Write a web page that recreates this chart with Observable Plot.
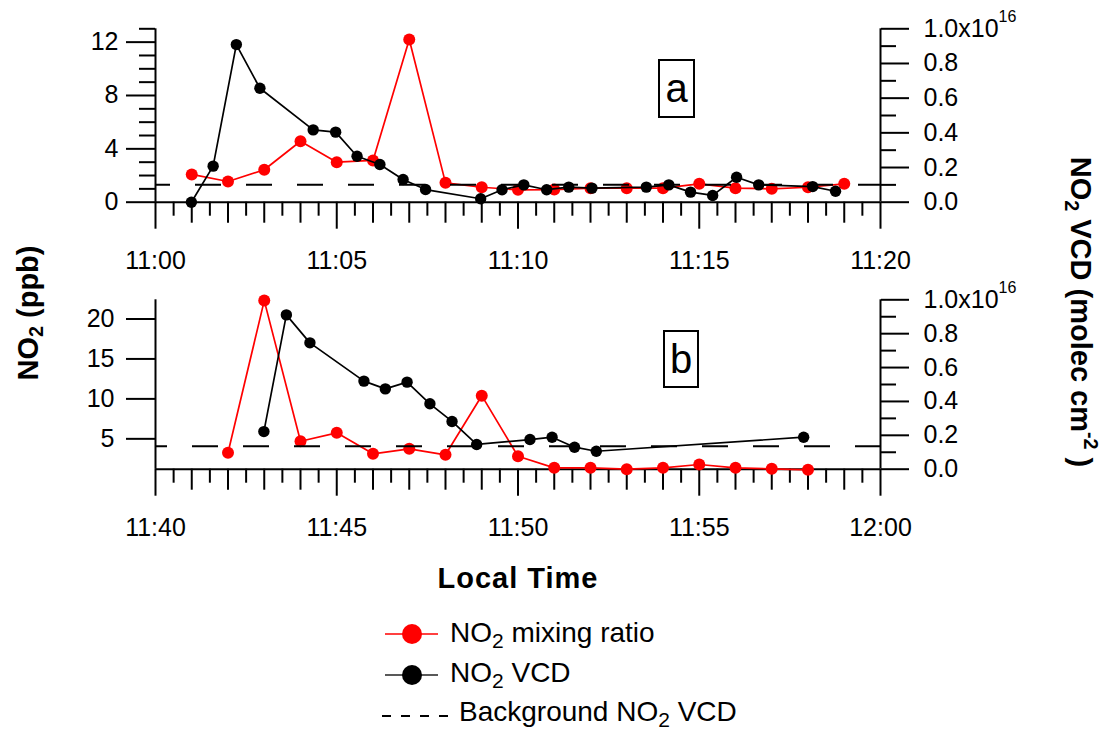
<!DOCTYPE html>
<html><head><meta charset="utf-8">
<script src="https://cdn.jsdelivr.net/npm/d3@7"></script>
<script src="https://cdn.jsdelivr.net/npm/@observablehq/plot@0.6"></script>
<style>
html,body{margin:0;padding:0;background:#fff;}
#chart{position:relative;width:1113px;height:731px;overflow:hidden;font-family:"Liberation Sans",Arial,sans-serif;color:#000;background:#fff;}
#chart svg{position:absolute;left:0;top:0;background:transparent;}
.title{position:absolute;font-weight:bold;font-size:29px;white-space:nowrap;line-height:1;transform-origin:50% 50%;}
.box{position:absolute;border:2px solid #000;box-sizing:border-box;font-size:40px;display:flex;align-items:center;justify-content:center;}
.leg{position:absolute;font-size:28px;white-space:nowrap;line-height:1;}
sub,sup{line-height:0;}
.title sub{font-size:0.68em;vertical-align:-0.3em;}
.title sup{font-size:0.68em;vertical-align:0.7em;}
.leg sub{font-size:0.75em;vertical-align:-0.3em;}
</style></head><body><div id="chart"></div>
<script>
// ---------- data (minutes after panel start; ppb; VCD in 1e16 molec cm^-2) ----------
const panelAStart = [11, 0];
const panelBStart = [11, 40];
const aRedMinutes = [1, 2, 3, 4, 5, 6, 7, 8, 9, 10, 11, 12, 13, 14, 15, 16, 17, 18, 19];
const aRedPpb = [2.08, 1.55, 2.43, 4.57, 3.0, 3.13, 12.2, 1.45, 1.12, 0.93, 0.95, 1.05, 1.05, 1.05, 1.38, 1.05, 1.0, 1.12, 1.38];
const aBlackMinutes = [0.99, 1.59, 2.23, 2.88, 4.35, 4.97, 5.56, 6.19, 6.83, 7.45, 8.97, 9.56, 10.16, 10.79, 11.40, 12.04, 13.54, 14.16, 14.76, 15.37, 16.03, 16.64, 18.13, 18.76];
const aBlackVcd = [0.0, 0.208, 0.909, 0.657, 0.417, 0.404, 0.265, 0.217, 0.131, 0.073, 0.02, 0.072, 0.1, 0.072, 0.087, 0.081, 0.087, 0.1, 0.058, 0.039, 0.144, 0.1, 0.09, 0.063];
const aBackgroundVcd = 0.1;

const bRedMinutes = [2, 3, 4, 5, 6, 7, 8, 9, 10, 11, 12, 13, 14, 15, 16, 17, 18];
const bRedPpb = [3.25, 22.3, 4.7, 5.75, 3.12, 3.75, 3.0, 10.4, 2.82, 1.37, 1.37, 1.2, 1.37, 1.79, 1.37, 1.25, 1.12];
const bBlackMinutes = [2.99, 3.61, 4.26, 5.75, 6.34, 6.94, 7.57, 8.18, 8.86, 10.33, 10.94, 11.56, 12.16, 17.88];
const bBlackVcd = [0.222, 0.911, 0.746, 0.52, 0.474, 0.514, 0.386, 0.282, 0.146, 0.175, 0.189, 0.13, 0.106, 0.189];
const bBackgroundVcd = 0.135;

const aLeftMajor = [0, 4, 8, 12];
const aLeftMinor = [1, 2, 3, 5, 6, 7, 9, 10, 11, 13];
const bLeftMajor = [5, 10, 15, 20];
const rightMajor = [0, 0.2, 0.4, 0.6, 0.8, 1.0];
const rightMinor = [0.1, 0.3, 0.5, 0.7, 0.9];

// ---------- layout ----------
const W = 1113, H = 731;
const FONT = '"Liberation Sans", Arial, sans-serif';
const TICKFONT = 25;
const chart = document.getElementById("chart");
const fmtHM = d3.utcFormat("%H:%M");

function panel(o) {
  const b = Date.UTC(2000, 0, 1, o.start[0], o.start[1]);
  const D = m => new Date(b + m * 60000);
  const red = o.redT.map((t, i) => ({t: D(t), v: o.redV[i]}));
  const blk = o.blkT.map((t, i) => ({t: D(t), v: o.blkV[i]}));
  const majors = d3.range(0, 21, 5).map(D);
  const minutes = d3.range(0, 21).filter(m => m % 5).map(D);
  const halves = d3.range(0.5, 20, 1).map(D);
  const common = {
    width: W, height: H,
    marginLeft: 155, marginRight: W - 880,
    marginTop: o.top, marginBottom: H - o.bottom,
    style: {background: "transparent", fontFamily: FONT, color: "#000", overflow: "visible"}
  };
  const left = Plot.plot({
    ...common,
    x: {type: "utc", domain: [D(0), D(20)]},
    y: {domain: o.leftDomain},
    marks: [
      Plot.ruleY([o.leftDomain[0]], {stroke: "#000", strokeWidth: 2}),
      Plot.ruleX([D(0), D(20)], {stroke: "#000", strokeWidth: 2}),
      Plot.axisX({anchor: "bottom", ticks: majors, tickSize: 27, tickPadding: 22, tickFormat: d => fmtHM(d), fontSize: TICKFONT, strokeWidth: 2, label: null}),
      Plot.axisX({anchor: "bottom", ticks: minutes, tickSize: 21, tickFormat: () => "", strokeWidth: 2, label: null}),
      Plot.axisX({anchor: "bottom", ticks: halves, tickSize: 14, tickFormat: () => "", strokeWidth: 2, label: null}),
      Plot.axisY({anchor: "left", ticks: o.leftMajor, tickSize: 29, tickPadding: o.leftPad, fontSize: TICKFONT, strokeWidth: 2, label: null}),
      ...(o.leftMinor.length ? [Plot.axisY({anchor: "left", ticks: o.leftMinor, tickSize: 16, tickFormat: () => "", strokeWidth: 2, label: null})] : []),
      Plot.line(red, {x: "t", y: "v", stroke: "#ff0000", strokeWidth: 1.7}),
      Plot.dot(red, {x: "t", y: "v", r: 6, fill: "#ff0000", stroke: "none"})
    ]
  });
  const right = Plot.plot({
    ...common,
    x: {type: "utc", domain: [D(0), D(20)], axis: null},
    y: {domain: [0, 1.0]},
    marks: [
      Plot.axisY({anchor: "right", ticks: rightMajor, tickSize: 28, tickPadding: 15, tickFormat: d => d === 1 ? "1.0x10" : d.toFixed(1), fontSize: TICKFONT, strokeWidth: 2, label: null}),
      Plot.axisY({anchor: "right", ticks: rightMinor, tickSize: 15, tickFormat: () => "", strokeWidth: 2, label: null}),
      Plot.text([1.0], {y: d => d, text: () => "16", frameAnchor: "right", dx: 118, dy: -12, textAnchor: "start", fontSize: 16}),
      Plot.ruleY([o.bg], {stroke: "#000", strokeWidth: 2, strokeDasharray: "26,25", strokeDashoffset: o.dashOffset}),
      Plot.line(blk, {x: "t", y: "v", stroke: "#000", strokeWidth: 1.7}),
      Plot.dot(blk, {x: "t", y: "v", r: 5.7, fill: "#000", stroke: "none"})
    ]
  });
  chart.appendChild(left);
  chart.appendChild(right);
}

panel({start: panelAStart, redT: aRedMinutes, redV: aRedPpb, blkT: aBlackMinutes, blkV: aBlackVcd, bg: aBackgroundVcd,
  leftDomain: [0, 13], top: 28.3, bottom: 201.7, leftMajor: aLeftMajor, leftMinor: aLeftMinor, leftPad: 8, dashOffset: 11});
panel({start: panelBStart, redT: bRedMinutes, redV: bRedPpb, blkT: bBlackMinutes, blkV: bBlackVcd, bg: bBackgroundVcd,
  leftDomain: [1.2, 22.4], top: 299.3, bottom: 468.7, leftMajor: bLeftMajor, leftMinor: [], leftPad: 12, dashOffset: 14});

// ---------- titles, panel labels, legend ----------
function add(html) { chart.insertAdjacentHTML("beforeend", html); }
add('<div class="title" style="left:28px;top:313px;transform:translate(-50%,-50%) rotate(-90deg)">NO<sub>2</sub> (ppb)</div>');
add('<div class="title" style="left:1080px;top:312px;transform:translate(-50%,-50%) rotate(90deg)">NO<sub>2</sub> VCD (molec cm<sup>-2</sup> )</div>');
add('<div class="title" style="left:518px;top:578px;transform:translate(-50%,-50%);letter-spacing:1px">Local Time</div>');
add('<div class="box" style="left:658px;top:59px;width:37px;height:59px">a</div>');
add('<div class="box" style="left:663px;top:330px;width:36px;height:58px">b</div>');
add('<svg width="' + W + '" height="' + H + '" style="pointer-events:none">' +
  '<line x1="385" x2="438" y1="634" y2="634" stroke="#ff0000" stroke-width="1.4"/>' +
  '<circle cx="412" cy="634" r="10" fill="#ff0000"/>' +
  '<line x1="385" x2="438" y1="675" y2="675" stroke="#222" stroke-width="1.4"/>' +
  '<circle cx="412" cy="675" r="10" fill="#000"/>' +
  '<line x1="382" x2="448" y1="716" y2="716" stroke="#000" stroke-width="2" stroke-dasharray="9,10"/>' +
  '</svg>');
add('<div class="leg" style="left:450px;top:619px">NO<sub>2</sub> mixing ratio</div>');
add('<div class="leg" style="left:450px;top:659px">NO<sub>2</sub> VCD</div>');
add('<div class="leg" style="left:459px;top:698px">Background NO<sub>2</sub> VCD</div>');
</script></body></html>
